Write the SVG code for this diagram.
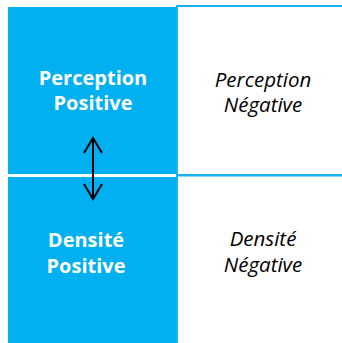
<svg xmlns="http://www.w3.org/2000/svg" width="342" height="343" viewBox="0 0 342 343">
<style>
.blue{fill:#00B0F0;}
.box{fill:#FFFFFF;stroke:#1AB2F0;stroke-width:2;}
.tb{font-family:"Open Sans","Liberation Sans",sans-serif;font-size:20px;font-weight:bold;fill:#FFFFFF;text-anchor:middle;}
.ti{font-family:"Open Sans","Liberation Sans",sans-serif;font-size:20.5px;font-style:italic;fill:#000000;text-anchor:middle;}
.arr{stroke:#000000;stroke-width:2;fill:none;}
</style>
<rect width="342" height="343" fill="#FFFFFF"/>
<g id="perception-positive">
<rect class="blue" x="8" y="7" width="168" height="167"/>
<text class="tb" x="93" y="85">Perception</text>
<text class="tb" x="93" y="110">Positive</text>
</g>
<g id="perception-negative">
<rect class="box" x="177" y="6" width="175" height="169"/>
<text class="ti" x="263" y="87">Perception</text>
<text class="ti" x="263" y="112">Négative</text>
</g>
<g id="densite-positive">
<rect class="blue" x="8" y="177" width="168" height="170"/>
<text class="tb" x="86" y="247">Densité</text>
<text class="tb" x="86" y="273">Positive</text>
</g>
<g id="densite-negative">
<rect class="box" x="177" y="175.5" width="175" height="180"/>
<text class="ti" x="263" y="246">Densité</text>
<text class="ti" x="263" y="272">Négative</text>
</g>
<g id="connectors">
<line class="arr" x1="93" y1="138" x2="93" y2="198"/>
<polyline class="arr" points="84,153 93,138 102,153"/>
<polyline class="arr" points="84,184 93,199 102,184"/>
</g>
</svg>
